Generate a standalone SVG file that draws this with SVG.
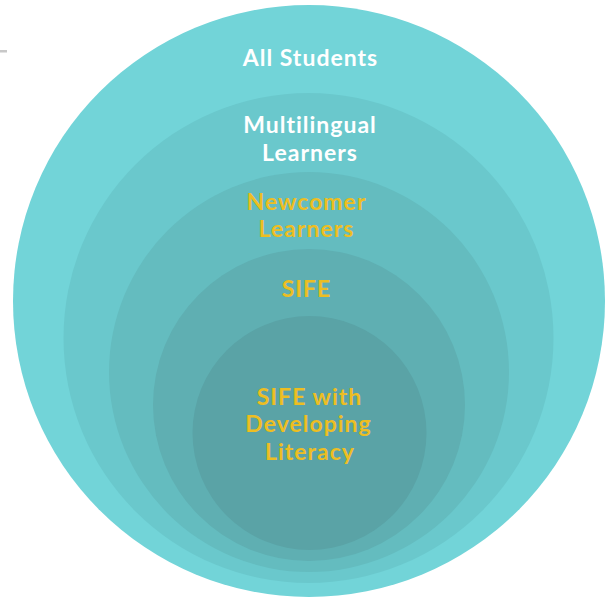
<svg xmlns="http://www.w3.org/2000/svg" width="607" height="597" viewBox="0 0 607 597">
<style>
.lbl{font-family:Lato,"Open Sans","DejaVu Sans",sans-serif;font-weight:700;font-size:23px;letter-spacing:1px;text-anchor:middle}
.w{fill:#FFFFFF}
.y{fill:#EDBE22}
</style>
<rect width="607" height="597" fill="#FFFFFF"/>
<rect x="0" y="50" width="7" height="2.5" fill="#C8C8C8"/>
<g id="all-students">
<circle cx="309" cy="301" r="296" fill="#72D4D8"/>
<text class="lbl w" x="310.5" y="66">All Students</text>
</g>
<g id="multilingual-learners">
<circle cx="308.5" cy="338" r="245" fill="#6AC8CC"/>
<text class="lbl w" x="310" y="133">Multilingual</text>
<text class="lbl w" x="310" y="161">Learners</text>
</g>
<g id="newcomer-learners">
<circle cx="309" cy="372" r="200" fill="#64BCBF"/>
<text class="lbl y" x="306.5" y="210">Newcomer</text>
<text class="lbl y" x="306.5" y="237">Learners</text>
</g>
<g id="sife">
<circle cx="309" cy="405" r="156" fill="#5FAFB2"/>
<text class="lbl y" x="306.5" y="297">SIFE</text>
</g>
<g id="sife-developing-literacy">
<circle cx="309.5" cy="433" r="117" fill="#5AA3A6"/>
<text class="lbl y" x="309.5" y="405">SIFE with</text>
<text class="lbl y" x="308.5" y="432">Developing</text>
<text class="lbl y" x="310" y="460">Literacy</text>
</g>
<g id="connectors"/>
</svg>
